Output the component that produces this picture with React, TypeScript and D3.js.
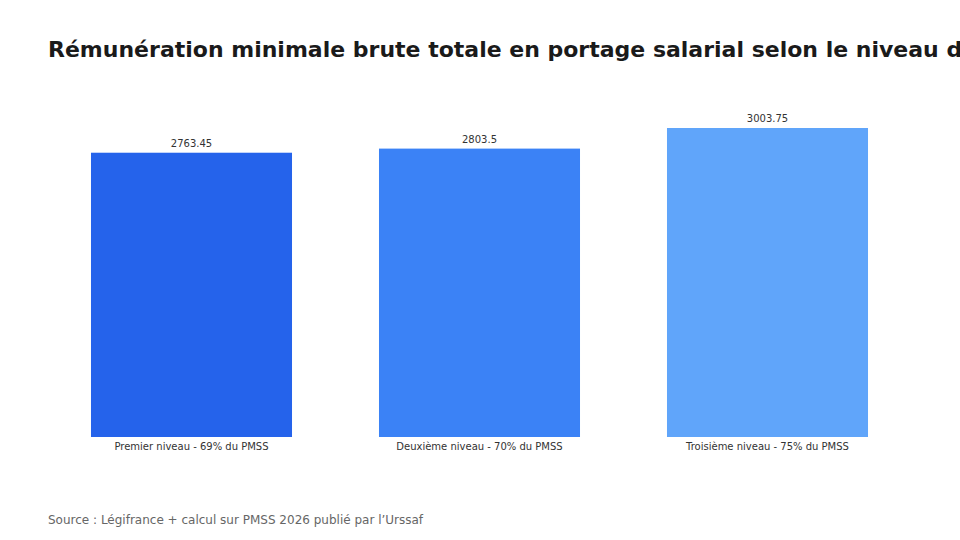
import { useRef, useEffect } from "react"
import * as d3 from "d3"

const categories = [
  "Premier niveau - 69% du PMSS",
  "Deuxième niveau - 70% du PMSS",
  "Troisième niveau - 75% du PMSS",
]
const values = [2763.45, 2803.5, 3003.75]
const colors = ["#2563eb", "#3b82f6", "#60a5fa"]

const TITLE = "Rémunération minimale brute totale en portage salarial selon le niveau de classification"
const SOURCE = "Source : Légifrance + calcul sur PMSS 2026 publié par l’Urssaf"

const W = 960, H = 540
const FONT = "'DejaVu Sans', sans-serif"

export default function App() {
  const ref = useRef<SVGSVGElement>(null)

  useEffect(() => {
    if (!ref.current) return
    const svg = d3.select(ref.current)
    svg.selectAll("*").remove()

    const x = d3.scaleBand<string>().domain(categories).range([47.5, 911.5])
      .paddingInner(0.302).paddingOuter(0.151)
    const y = d3.scaleLinear().domain([0, d3.max(values)!]).range([437, 128])

    svg.append("rect").attr("width", W).attr("height", H).attr("fill", "#fff")

    svg.append("text").attr("x", 48).attr("y", 57)
      .attr("font-family", FONT).attr("font-size", 22).attr("font-weight", "bold")
      .attr("fill", "#1a1a1a").text(TITLE)

    const g = svg.append("g")
    g.selectAll("rect.bar").data(values).join("rect").attr("class", "bar")
      .attr("x", (_, i) => x(categories[i])!)
      .attr("y", d => y(d))
      .attr("width", x.bandwidth())
      .attr("height", d => y(0) - y(d))
      .attr("fill", (_, i) => colors[i])

    g.selectAll("text.val").data(values).join("text").attr("class", "val")
      .attr("x", (_, i) => x(categories[i])! + x.bandwidth() / 2)
      .attr("y", d => y(d) - 6)
      .attr("text-anchor", "middle")
      .attr("font-family", FONT).attr("font-size", 10).attr("fill", "#333")
      .text(d => String(d))

    const axis = d3.axisBottom(x).tickSize(0).tickPadding(6)
    const ax = svg.append("g").attr("transform", `translate(0,${y(0)})`).call(axis)
    ax.select(".domain").remove()
    ax.selectAll("text").attr("font-family", FONT).attr("font-size", 10).attr("fill", "#333")

    svg.append("text").attr("x", 48).attr("y", 524)
      .attr("font-family", FONT).attr("font-size", 12).attr("fill", "#666")
      .text(SOURCE)
  }, [])

  return (
    <svg ref={ref} width={W} height={H}
      style={{ position: "absolute", left: 0, top: 0, display: "block" }} />
  )
}
